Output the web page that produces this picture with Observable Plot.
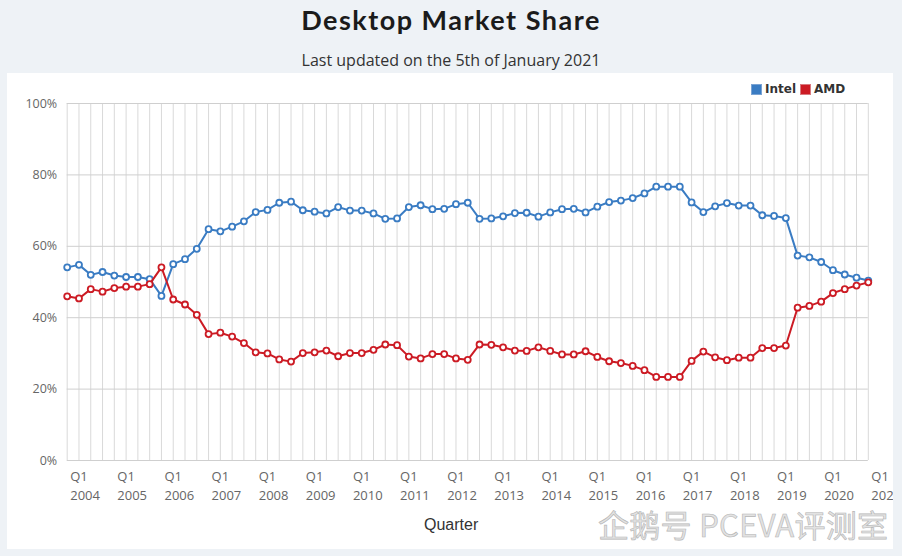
<!DOCTYPE html>
<html>
<head>
<meta charset="utf-8">
<script src="https://cdn.jsdelivr.net/npm/d3@7"></script>
<script src="https://cdn.jsdelivr.net/npm/@observablehq/plot@0.6"></script>
<style>
  html, body { margin: 0; padding: 0; }
  body { width: 902px; height: 556px; background: #eef2f6; position: relative; overflow: hidden; font-family: "Open Sans", sans-serif; }
  #title { position: absolute; left: 0; top: 3px; width: 902px; text-align: center; font: 700 27px Lato, sans-serif; letter-spacing: 1.5px; color: #1b1b1b; white-space: nowrap; line-height: 34px; }
  #subtitle { position: absolute; left: 0; top: 49px; width: 902px; text-align: center; font: 400 16px "Open Sans", sans-serif; color: #333; white-space: nowrap; line-height: 22px; }
  #panel { position: absolute; left: 7px; top: 73px; width: 886px; height: 476px; background: #fff; overflow: hidden; }
  #panel svg { position: absolute; left: 0; top: 0; }
  #legend { position: absolute; left: 751px; top: 82px; font: 700 12px "DejaVu Sans", sans-serif; color: #333; display: flex; align-items: center; white-space: nowrap; }
  #legend .sw { display: inline-block; width: 9px; height: 9px; border: 1px solid; margin-right: 3px; }
  #legend .item { display: inline-flex; align-items: center; margin-right: 4px; }
  #watermark { position: absolute; left: 598px; top: 510px; font: 400 31px "Noto Sans CJK SC", sans-serif; line-height: 28px; letter-spacing: 0.3px; color: #e2e2e2; -webkit-text-stroke: 0.6px #b5b5b5; white-space: nowrap; }
</style>
</head>
<body>
<div id="title">Desktop Market Share</div>
<div id="subtitle">Last updated on the 5th of January 2021</div>
<div id="panel"></div>
<div id="legend"></div>
<div id="watermark">企鹅号 PCEVA评测室</div>
<script>
// ---- data ----
const tickYears = [2004, 2005, 2006, 2007, 2008, 2009, 2010, 2011, 2012, 2013, 2014, 2015, 2016, 2017, 2018, 2019, 2020, 2021];
const seriesNames = ["Intel", "AMD"];
const seriesColors = ["#3a7cc3", "#cc1b24"];
const yTicks = [0, 20, 40, 60, 80, 100];

const intel = [
  54.1, 54.8, 52.0, 52.8, 51.8, 51.4, 51.4, 50.8,
  46.1, 55.0, 56.4, 59.3, 64.8, 64.2, 65.5, 67.0,
  69.6, 70.2, 72.2, 72.5, 70.1, 69.7, 69.2, 71.0,
  70.0, 70.0, 69.2, 67.7, 67.8, 71.0, 71.5, 70.4,
  70.5, 71.8, 72.2, 67.7, 67.8, 68.4, 69.3, 69.4,
  68.3, 69.5, 70.4, 70.5, 69.5, 71.1, 72.4, 72.8,
  73.5, 74.8, 76.7, 76.7, 76.7, 72.3, 69.6, 71.2,
  72.1, 71.4, 71.4, 68.7, 68.5, 67.9, 57.4, 56.9,
  55.6, 53.3, 52.1, 51.2, 50.4
];
const amd = [
  46.0, 45.4, 48.0, 47.3, 48.3, 48.7, 48.7, 49.4,
  54.1, 45.1, 43.7, 40.8, 35.4, 35.8, 34.7, 32.9,
  30.3, 30.0, 28.3, 27.7, 30.1, 30.3, 30.8, 29.2,
  30.1, 30.1, 31.0, 32.5, 32.3, 29.1, 28.6, 29.8,
  29.8, 28.6, 28.2, 32.5, 32.4, 31.7, 30.8, 30.7,
  31.7, 30.7, 29.7, 29.7, 30.6, 29.0, 27.8, 27.3,
  26.5, 25.3, 23.4, 23.4, 23.4, 27.9, 30.5, 28.9,
  28.1, 28.8, 28.8, 31.5, 31.5, 32.2, 42.8, 43.3,
  44.5, 46.9, 48.0, 49.0, 49.9
];

// quarter categories built from the tick years
const quarters = [];
for (const y of tickYears) for (let q = 1; q <= 4; q++) if (quarters.length < intel.length) quarters.push(`Q${q} ${y}`);
const q1Ticks = quarters.filter(q => q.startsWith("Q1"));

const rows = [intel, amd].map((vals, s) => vals.map((v, i) => ({quarter: quarters[i], share: v, brand: seriesNames[s]})));

const chart = Plot.plot({
  width: 886,
  height: 476,
  marginLeft: 59.7,
  marginRight: 25.2,
  marginTop: 30,
  marginBottom: 89,
  style: {background: "transparent", fontFamily: "'Open Sans', sans-serif", fontSize: "13px", color: "#666"},
  x: {type: "point", domain: quarters, padding: 0},
  y: {domain: [0, 100]},
  marks: [
    Plot.ruleX(quarters, {y1: 0, y2: 100, stroke: "#d9d9d9", strokeWidth: 1}),
    Plot.ruleY(yTicks, {stroke: "#cfcfcf", strokeWidth: 1}),
    Plot.axisY(yTicks, {tickSize: 0, tickPadding: 10, tickFormat: d => d + "%", fill: "#666", fontSize: 12.5, label: null}),
    Plot.axisX(q1Ticks, {tickSize: 0, tickPadding: 7, textAnchor: "start", dx: 3, tickFormat: q => q.replace(" ", "\n"), fill: "#666", fontSize: 13, lineHeight: 1.46, label: null}),
    Plot.text(["Quarter"], {frameAnchor: "bottom", dy: 69, dx: -16.6, fontFamily: "'Liberation Sans', Arial, sans-serif", fontSize: 16, fill: "#333"}),
    ...rows.map((r, s) => [
      Plot.line(r, {x: "quarter", y: "share", stroke: seriesColors[s], strokeWidth: 2}),
      Plot.dot(r, {x: "quarter", y: "share", r: 3, fill: "white", stroke: seriesColors[s], strokeWidth: 1.8})
    ])
  ]
});
document.getElementById("panel").appendChild(chart);

const legend = document.getElementById("legend");
seriesNames.forEach((n, s) => {
  const item = document.createElement("span");
  item.className = "item";
  const sw = document.createElement("span");
  sw.className = "sw";
  sw.style.background = seriesColors[s];
  sw.style.borderColor = s === 0 ? "#7aa3d3" : "#d97a7f";
  item.appendChild(sw);
  item.appendChild(document.createTextNode(n));
  legend.appendChild(item);
});
</script>
</body>
</html>
